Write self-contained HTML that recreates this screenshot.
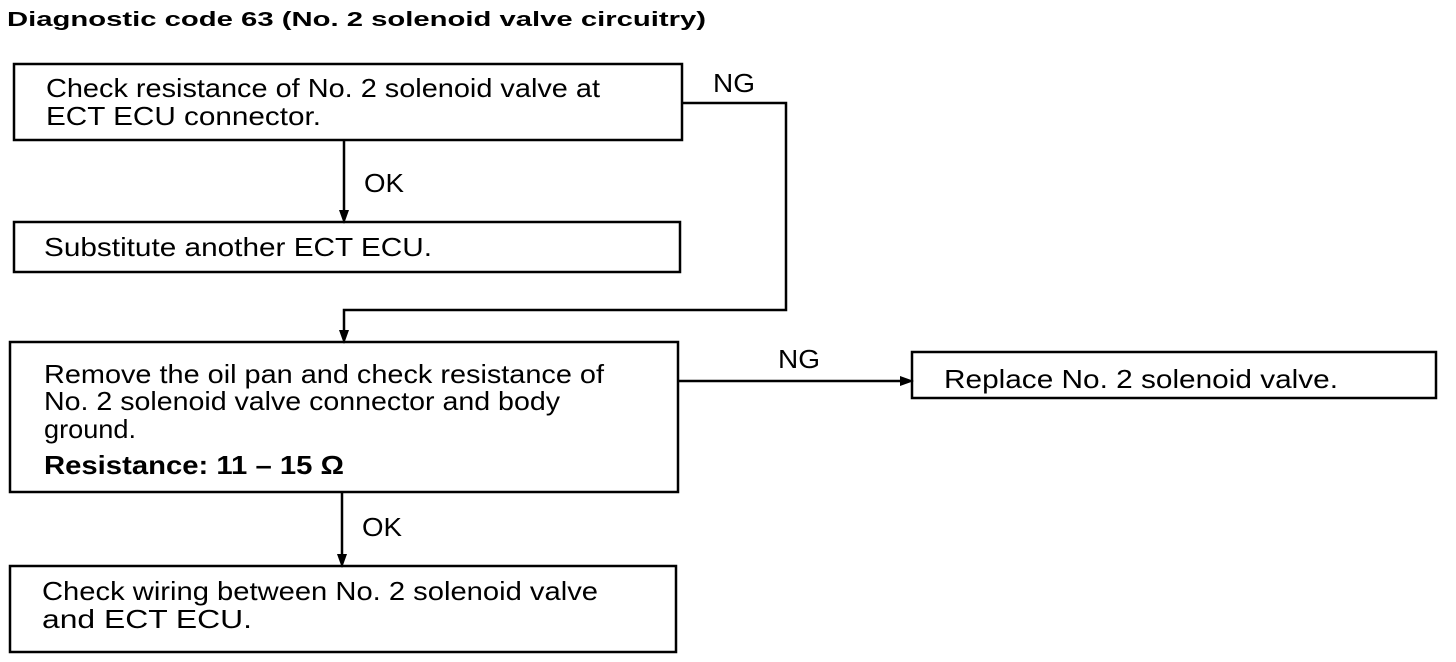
<!DOCTYPE html>
<html><head><meta charset="utf-8"><style>
html,body{margin:0;padding:0;background:#fff;}
svg{display:block;}
text{font-family:"Liberation Sans",sans-serif;fill:#000;}
</style></head><body>
<svg width="1456" height="662" viewBox="0 0 1456 662" xmlns="http://www.w3.org/2000/svg">
<text x="7" y="26" font-size="20" font-weight="bold" textLength="699" lengthAdjust="spacingAndGlyphs">Diagnostic code 63 (No. 2 solenoid valve circuitry)</text>
<g fill="none" stroke="#000" stroke-width="2.5">
<rect x="14" y="64" width="668" height="76"/>
<rect x="14" y="222" width="666" height="50"/>
<rect x="10" y="342" width="668" height="150"/>
<rect x="912" y="352" width="524" height="46"/>
<rect x="10" y="566" width="666" height="86"/>
<polyline points="344,140 344,214"/>
<polyline points="682,103 786,103 786,310 344,310 344,334"/>
<polyline points="678,381 904,381"/>
<polyline points="342,492 342,558"/>
</g>
<g fill="#000">
<polygon points="339,210 349,210 344,224"/>
<polygon points="339,330 349,330 344,344"/>
<polygon points="900,376 900,386 914,381"/>
<polygon points="337,554 347,554 342,568"/>
</g>
<g font-size="26">
<text x="46" y="97" textLength="554" lengthAdjust="spacingAndGlyphs">Check resistance of No. 2 solenoid valve at</text>
<text x="46" y="125" textLength="275" lengthAdjust="spacingAndGlyphs">ECT ECU connector.</text>
<text x="364" y="192" textLength="40" lengthAdjust="spacingAndGlyphs">OK</text>
<text x="713" y="92" textLength="42" lengthAdjust="spacingAndGlyphs">NG</text>
<text x="44" y="256" textLength="388" lengthAdjust="spacingAndGlyphs">Substitute another ECT ECU.</text>
<text x="44" y="383" textLength="560" lengthAdjust="spacingAndGlyphs">Remove the oil pan and check resistance of</text>
<text x="44" y="410" textLength="516" lengthAdjust="spacingAndGlyphs">No. 2 solenoid valve connector and body</text>
<text x="44" y="438" textLength="92" lengthAdjust="spacingAndGlyphs">ground.</text>
<text x="44" y="474" font-weight="bold" textLength="300" lengthAdjust="spacingAndGlyphs">Resistance:  11 – 15 Ω</text>
<text x="778" y="368" textLength="42" lengthAdjust="spacingAndGlyphs">NG</text>
<text x="944" y="388" textLength="394" lengthAdjust="spacingAndGlyphs">Replace No. 2 solenoid valve.</text>
<text x="362" y="536" textLength="40" lengthAdjust="spacingAndGlyphs">OK</text>
<text x="42" y="600" textLength="556" lengthAdjust="spacingAndGlyphs">Check wiring between No. 2 solenoid valve</text>
<text x="42" y="628" textLength="210" lengthAdjust="spacingAndGlyphs">and ECT ECU.</text>
</g>
</svg>
</body></html>
